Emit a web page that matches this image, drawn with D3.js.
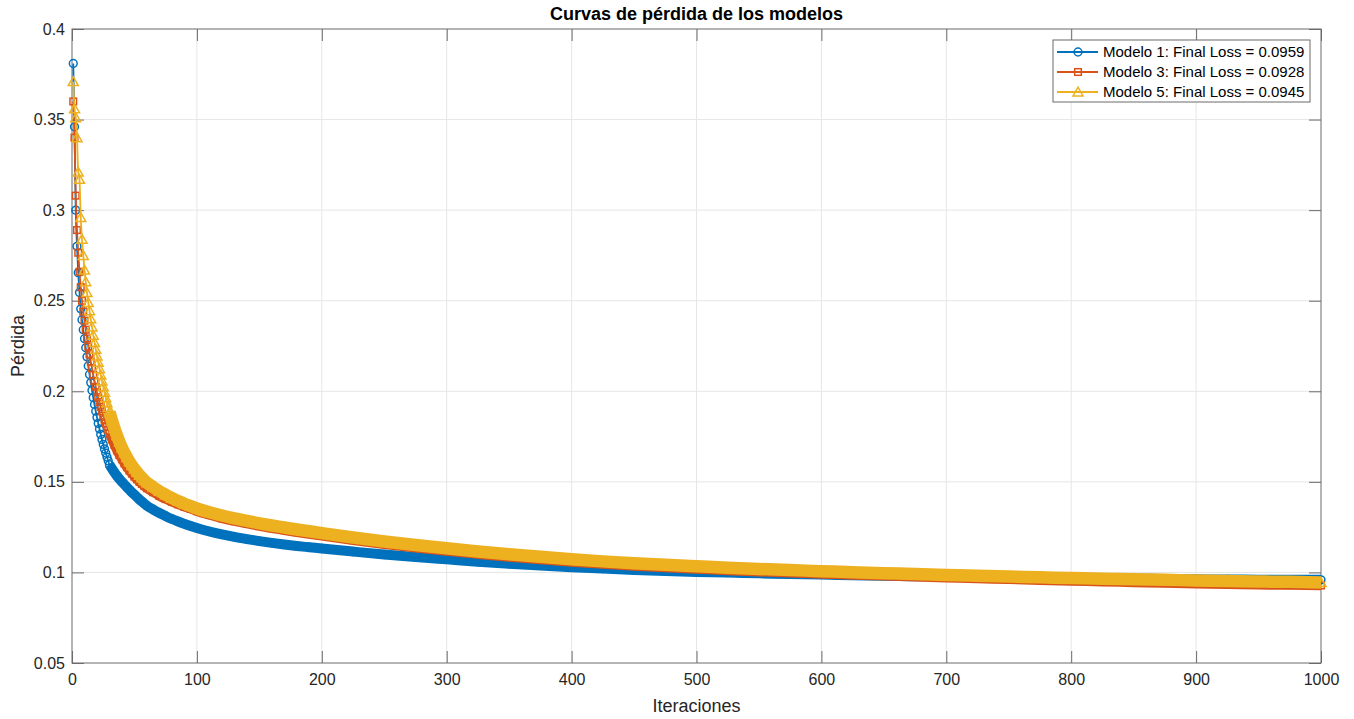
<!DOCTYPE html>
<html>
<head>
<meta charset="utf-8">
<script src="https://cdn.jsdelivr.net/npm/d3@7"></script>
<style>
    body { margin: 0; background: #fff; }
    text { font-family: "Liberation Sans", Arial, Helvetica, sans-serif; }
</style>
</head>
<body>
<div id="imageContainer"></div>
<script>
var iters = [1, 2, 3, 4, 5, 6, 7, 8, 9, 10, 11, 12, 13, 14, 15, 16, 17, 18, 19, 20,
    21, 22, 23, 24, 25, 26, 27, 28, 29, 30, 32, 34, 36, 38, 40, 42, 44, 46, 48, 50,
    52, 54, 56, 58, 60, 65, 70, 75, 80, 85, 90, 95, 100, 110, 120, 130, 140, 150, 160, 170,
    180, 190, 200, 225, 250, 275, 300, 325, 350, 375, 400, 425, 450, 475, 500, 525, 550, 575, 600, 625,
    650, 675, 700, 725, 750, 775, 800, 825, 850, 875, 900, 925, 950, 975, 1000];

var loss1 = [0.381, 0.346, 0.300, 0.280, 0.2655, 0.2545, 0.2455, 0.2395, 0.2340, 0.2290, 0.2240, 0.2190, 0.2140, 0.2093, 0.2048, 0.2005, 0.1965, 0.1927, 0.1890, 0.1856,
    0.1823, 0.1792, 0.1762, 0.1734, 0.1707, 0.1682, 0.1659, 0.1637, 0.1616, 0.1595, 0.1573, 0.1552, 0.1533, 0.1516, 0.1500, 0.1485, 0.1470, 0.1456, 0.1442, 0.1429,
    0.1416, 0.1403, 0.1391, 0.1379, 0.1368, 0.1347, 0.1328, 0.1311, 0.1295, 0.1281, 0.1268, 0.1256, 0.1245, 0.1226, 0.1210, 0.1196, 0.1184, 0.1173, 0.1163, 0.1154,
    0.1146, 0.1139, 0.1132, 0.1115, 0.1099, 0.1085, 0.1072, 0.1059, 0.1048, 0.1038, 0.1029, 0.1021, 0.1014, 0.1008, 0.1003, 0.0999, 0.0995, 0.0991, 0.0988, 0.0985,
    0.0982, 0.0979, 0.0977, 0.0975, 0.0973, 0.0971, 0.0969, 0.0967, 0.0965, 0.0964, 0.0962, 0.0961, 0.0960, 0.0959, 0.0959];

var loss3 = [0.360, 0.340, 0.308, 0.289, 0.2765, 0.2660, 0.2575, 0.2500, 0.2440, 0.2390, 0.2340, 0.2292, 0.2247, 0.2205, 0.2165, 0.2127, 0.2091, 0.2057, 0.2025, 0.1995,
    0.1967, 0.1940, 0.1914, 0.1889, 0.1866, 0.1844, 0.1823, 0.1804, 0.1786, 0.1769, 0.1735, 0.1703, 0.1674, 0.1648, 0.1625, 0.1602, 0.1581, 0.1562, 0.1545, 0.1529,
    0.1514, 0.1500, 0.1488, 0.1476, 0.1465, 0.1443, 0.1422, 0.1405, 0.1390, 0.1376, 0.1363, 0.1351, 0.1338, 0.1317, 0.1299, 0.1283, 0.1269, 0.1256, 0.1244, 0.1233,
    0.1222, 0.1212, 0.1202, 0.1178, 0.1156, 0.1136, 0.1118, 0.1101, 0.1085, 0.1071, 0.1058, 0.1046, 0.1036, 0.1027, 0.1019, 0.1011, 0.1004, 0.0998, 0.0992, 0.0986,
    0.0981, 0.0976, 0.0971, 0.0966, 0.0962, 0.0957, 0.0953, 0.0949, 0.0945, 0.0941, 0.0938, 0.0935, 0.0932, 0.0930, 0.0928];

var loss5 = [0.371, 0.356, 0.351, 0.340, 0.321, 0.317, 0.296, 0.284, 0.275, 0.267, 0.2605, 0.2545, 0.2490, 0.2445, 0.2400, 0.2355, 0.2310, 0.2270, 0.2232, 0.2195,
    0.2160, 0.2125, 0.2090, 0.2057, 0.2025, 0.1995, 0.1965, 0.1937, 0.1910, 0.1885, 0.1838, 0.1795, 0.1756, 0.1720, 0.1688, 0.1660, 0.1634, 0.1611, 0.1590, 0.1571,
    0.1553, 0.1537, 0.1522, 0.1508, 0.1495, 0.1471, 0.1448, 0.1429, 0.1410, 0.1394, 0.1379, 0.1366, 0.1353, 0.1332, 0.1314, 0.1298, 0.1284, 0.1271, 0.1259, 0.1248,
    0.1237, 0.1227, 0.1217, 0.1193, 0.1171, 0.1151, 0.1133, 0.1116, 0.1100, 0.1086, 0.1073, 0.1061, 0.1051, 0.1042, 0.1034, 0.1026, 0.1019, 0.1013, 0.1007, 0.1001,
    0.0996, 0.0991, 0.0986, 0.0981, 0.0977, 0.0973, 0.0969, 0.0965, 0.0962, 0.0959, 0.0956, 0.0953, 0.0950, 0.0948, 0.0945];

var seriesNames = ['Modelo 1: Final Loss = 0.0959', 'Modelo 3: Final Loss = 0.0928', 'Modelo 5: Final Loss = 0.0945'];
var xTicks = [0, 100, 200, 300, 400, 500, 600, 700, 800, 900, 1000];
var yTicks = [0.05, 0.1, 0.15, 0.2, 0.25, 0.3, 0.35, 0.4];
var yTickLabels = ['0.05', '0.1', '0.15', '0.2', '0.25', '0.3', '0.35', '0.4'];

(function() {
    var width = 1354,
        height = 719,
        plot = { left: 72, right: 1321, top: 29, bottom: 663 },
        axis_color = '#6b6b6b',
        grid_color = '#e6e6e6',
        text_color = '#262626',
        tick_len = 12,
        band_start = 30;   // from here on the markers overlap into a solid band

    var styles = [
        { color: '#0072BD', marker: 'circle', band: 10 },
        { color: '#D95319', marker: 'square', band: 9.5 },
        { color: '#EDB120', marker: 'triangle', band: 12.5 }
    ];
    var allLoss = [loss1, loss3, loss5];

    var svg = d3.select('#imageContainer').append('svg')
        .attr('width', width)
        .attr('height', height);

    var x = d3.scaleLinear().domain([0, 1000]).range([plot.left, plot.right]);
    var y = d3.scaleLinear().domain([0.05, 0.4]).range([plot.bottom, plot.top]);

    // grid
    svg.append('g').selectAll('line')
        .data(xTicks.slice(1, -1))
        .enter().append('line')
        .attr('x1', function(d) { return x(d); })
        .attr('x2', function(d) { return x(d); })
        .attr('y1', plot.top)
        .attr('y2', plot.bottom)
        .attr('stroke', grid_color)
        .attr('stroke-width', 1);

    svg.append('g').selectAll('line')
        .data(yTicks.slice(1, -1))
        .enter().append('line')
        .attr('x1', plot.left)
        .attr('x2', plot.right)
        .attr('y1', function(d) { return y(d); })
        .attr('y2', function(d) { return y(d); })
        .attr('stroke', grid_color)
        .attr('stroke-width', 1);

    // box + ticks on all four sides, pointing inwards
    svg.append('rect')
        .attr('x', plot.left)
        .attr('y', plot.top)
        .attr('width', plot.right - plot.left)
        .attr('height', plot.bottom - plot.top)
        .attr('fill', 'none')
        .attr('stroke', axis_color)
        .attr('stroke-width', 1);

    var bottomAxis = d3.axisBottom(x).tickValues(xTicks).tickSize(-tick_len).tickFormat(d3.format('d')).tickPadding(11);
    var topAxis = d3.axisTop(x).tickValues(xTicks).tickSize(-tick_len).tickFormat('');
    var leftAxis = d3.axisLeft(y).tickValues(yTicks).tickSize(-tick_len)
        .tickFormat(function(d, i) { return yTickLabels[i]; }).tickPadding(7);
    var rightAxis = d3.axisRight(y).tickValues(yTicks).tickSize(-tick_len).tickFormat('');

    function styleAxis(g) {
        g.select('.domain').remove();
        g.selectAll('.tick line').attr('stroke', axis_color);
        g.selectAll('.tick text')
            .attr('fill', text_color)
            .style('font-size', '16px');
    }

    svg.append('g').attr('transform', 'translate(0,' + plot.bottom + ')').call(bottomAxis).call(styleAxis);
    svg.append('g').attr('transform', 'translate(0,' + plot.top + ')').call(topAxis).call(styleAxis);
    svg.append('g').attr('transform', 'translate(' + plot.left + ',0)').call(leftAxis).call(styleAxis);
    svg.append('g').attr('transform', 'translate(' + plot.right + ',0)').call(rightAxis).call(styleAxis);

    // markers
    function drawMarker(g, type, color) {
        if (type === 'circle') {
            g.append('circle').attr('r', 3.9);
        } else if (type === 'square') {
            g.append('rect').attr('x', -3.3).attr('y', -3.3).attr('width', 6.6).attr('height', 6.6);
        } else {
            g.append('path').attr('d', 'M0,-4.8 L5,4 L-5,4 Z');
        }
        g.selectAll('*')
            .attr('fill', 'none')
            .attr('stroke', color)
            .attr('stroke-width', 1.5);
    }

    var line = d3.line()
        .x(function(d) { return x(d.it); })
        .y(function(d) { return y(d.v); })
        .curve(d3.curveMonotoneX);

    allLoss.forEach(function(values, s) {
        var st = styles[s];
        var pts = iters.map(function(it, i) { return { it: it, v: values[i] }; });
        var g = svg.append('g');

        // dense part: 1000 overlapping markers give a solid band
        g.append('path')
            .datum(pts.filter(function(d) { return d.it >= band_start; }))
            .attr('d', line)
            .attr('fill', 'none')
            .attr('stroke', st.color)
            .attr('stroke-width', st.band)
            .attr('stroke-linejoin', 'round');

        g.append('path')
            .datum(pts)
            .attr('d', line)
            .attr('fill', 'none')
            .attr('stroke', st.color)
            .attr('stroke-width', 1.8);

        pts.forEach(function(d) {
            var m = g.append('g').attr('transform', 'translate(' + x(d.it) + ',' + y(d.v) + ')');
            drawMarker(m, st.marker, st.color);
        });
    });

    // labels
    svg.append('text')
        .attr('x', (plot.left + plot.right) / 2)
        .attr('y', 20)
        .attr('text-anchor', 'middle')
        .style('font-size', '18px')
        .style('font-weight', 'bold')
        .attr('fill', '#000')
        .text('Curvas de pérdida de los modelos');

    svg.append('text')
        .attr('x', (plot.left + plot.right) / 2)
        .attr('y', 712)
        .attr('text-anchor', 'middle')
        .style('font-size', '18px')
        .attr('fill', text_color)
        .text('Iteraciones');

    svg.append('text')
        .attr('transform', 'translate(24,' + (plot.top + plot.bottom) / 2 + ') rotate(-90)')
        .attr('text-anchor', 'middle')
        .style('font-size', '18px')
        .attr('fill', text_color)
        .text('Pérdida');

    // legend
    var legend = svg.append('g').attr('transform', 'translate(1053,40)');
    legend.append('rect')
        .attr('width', 257)
        .attr('height', 62)
        .attr('fill', '#fff')
        .attr('stroke', axis_color)
        .attr('stroke-width', 1);

    seriesNames.forEach(function(name, s) {
        var row = legend.append('g').attr('transform', 'translate(0,' + (12 + s * 20) + ')');
        row.append('line')
            .attr('x1', 4).attr('x2', 45)
            .attr('stroke', styles[s].color)
            .attr('stroke-width', 2);
        drawMarker(row.append('g').attr('transform', 'translate(25,0)'), styles[s].marker, styles[s].color);
        row.append('text')
            .attr('x', 50)
            .attr('dy', '0.36em')
            .style('font-size', '15px')
            .attr('fill', '#000')
            .text(name);
    });
})();
</script>
</body>
</html>
